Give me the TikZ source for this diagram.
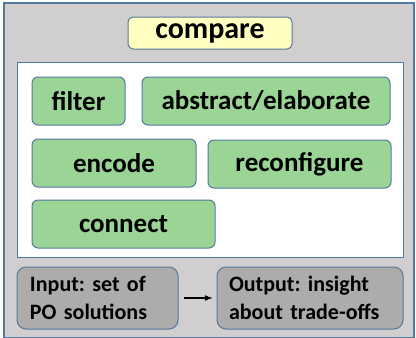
\documentclass[tikz,border=0pt]{standalone}
\usepackage{fontspec}
\setmainfont{Carlito}
\frenchspacing
\usetikzlibrary{positioning,arrows}

\definecolor{panelgray}{HTML}{D0CECE}
\definecolor{edgeblue}{HTML}{5479A0}
\definecolor{tagyellow}{HTML}{FFFFC2}
\definecolor{opgreen}{HTML}{9AD595}
\definecolor{iogray}{HTML}{AEABAB}

\tikzset{
  opbox/.style={draw=edgeblue,fill=opgreen,rounded corners=6pt,line width=1pt,minimum height=48pt,font=\bfseries\fontsize{27}{30}\selectfont},
  iobox/.style={draw=edgeblue,fill=iogray,rounded corners=9pt,line width=1pt,minimum height=62pt,align=left,font=\bfseries\fontsize{22}{27.5}\selectfont}
}

\begin{document}
\begin{tikzpicture}[x=1pt,y=-1pt]
\useasboundingbox (0,0) rectangle (416,338);
\draw[edgeblue,fill=panelgray,line width=1.2pt] (4,3) rectangle (414,338);
\node[draw=edgeblue,fill=tagyellow,rounded corners=5pt,line width=1pt,minimum width=164pt,minimum height=32pt,font=\bfseries\fontsize{30}{32}\selectfont](compare) at (210,33){compare};
\node[draw=edgeblue,fill=white,line width=1pt,minimum width=386pt,minimum height=195pt,inner sep=0pt](ops) at (210,159.5){};
\foreach \t/\x/\y/\w [count=\n] in {filter/78.5/101/93,{abstract/elaborate}/266/101/248,encode/114/163/164,reconfigure/299.5/164/183,connect/123.5/224/183}
  \node[opbox,minimum width=\w pt](O\n) at (\x,\y){\t};
\node[iobox,minimum width=161pt,text width=135pt](input) at (97.5,298){Input: set of\\PO solutions};
\node[iobox,minimum width=186pt,text width=162pt](output) at (310,298){Output: insight\\about trade-offs};
\draw[-latex,line width=1.6pt,shorten <=5pt,shorten >=4pt] (input) -- (output);
\end{tikzpicture}
\end{document}
